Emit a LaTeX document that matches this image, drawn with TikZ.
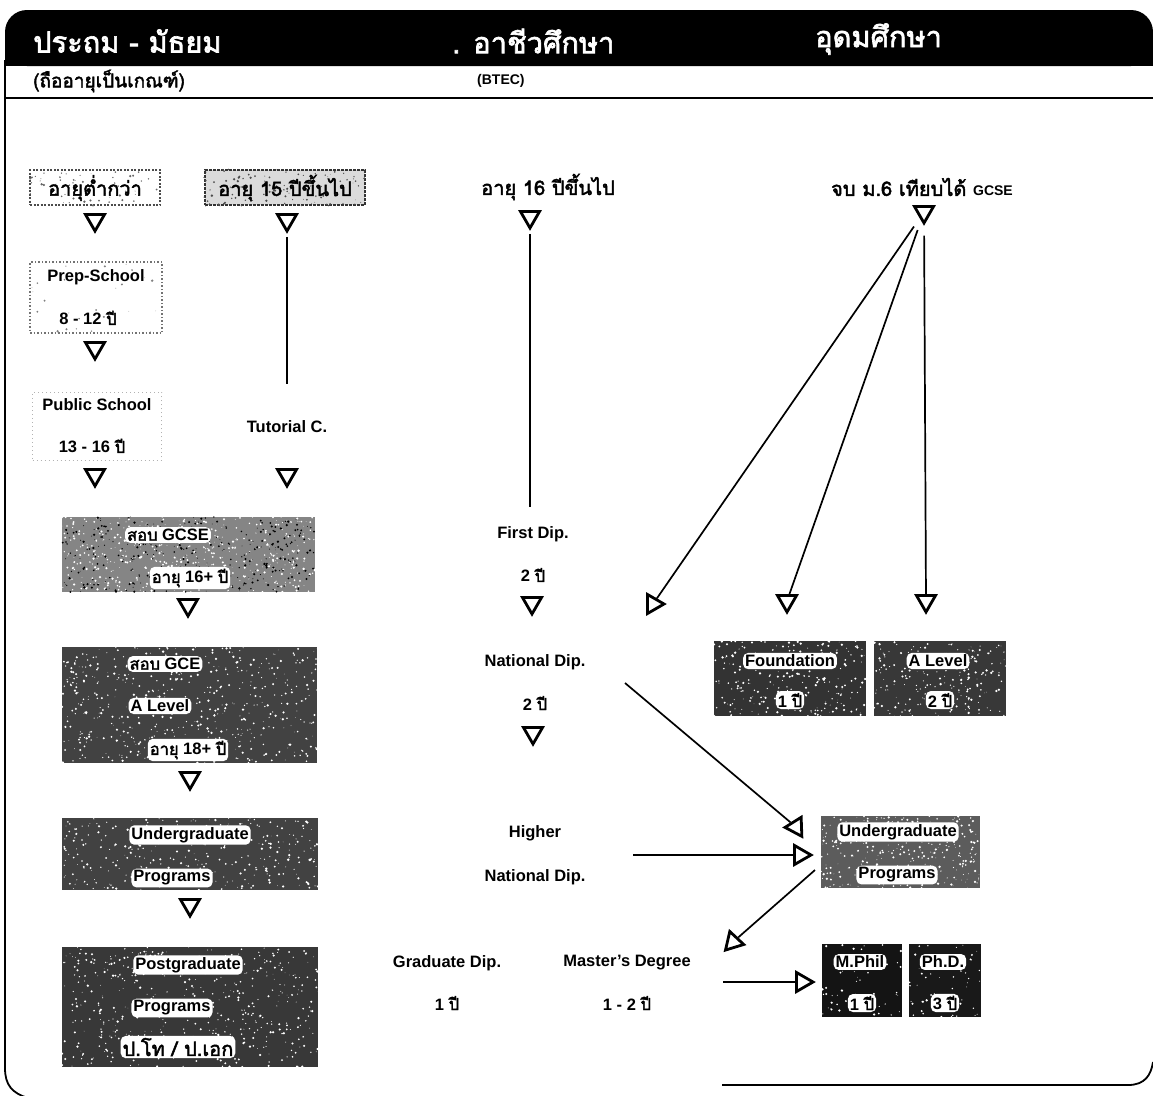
\documentclass[tikz,border=0pt]{standalone}
\usepackage{fontspec}
\setmainfont{Liberation Sans}
\newfontfamily\thaifont[Script=Thai, AutoFakeBold=2.2]{Loma}
\usetikzlibrary{shapes.geometric,calc}
\newcommand\thtxt[1]{{\thaifont #1}}
\newcommand\speckle[3]{%
  \fill[#3] let \p1=($(#1.north east)-(#1.south west)$) in
    foreach \k in {1,...,#2}{ ($(#1.south west)+({rnd*\x1},{rnd*\y1})$) circle[radius={0.3pt+1.0pt*rnd}] };}
\begin{document}
\begin{tikzpicture}[x=1pt,y=-1pt,
  lbl/.style={font=\bfseries\fontsize{16.5}{19}\selectfont, inner sep=1pt},
  thl/.style={font=\thaifont\bfseries\fontsize{20}{23}\selectfont, inner sep=1pt},
  halo/.style={fill=white, rounded corners=5pt, inner sep=2pt},
  head/.style={font=\thaifont\bfseries\fontsize{29}{33}\selectfont, text=white, anchor=west, inner sep=0pt},
  tri/.style={regular polygon, regular polygon sides=3, draw=black, line width=2.8pt,
    fill=white, minimum size=22pt, inner sep=0pt, shape border rotate=180},
  triright/.style={tri, shape border rotate=-90},
  conn/.style={line width=1.7pt},
  sbox/.style={inner sep=0pt, draw=none},
  lightbox/.style={inner sep=0pt, draw=black!70, line width=1.2pt, dash pattern=on 2pt off 1.5pt, fill=white}
]
\pgfmathsetseed{11}
\useasboundingbox (0,0) rectangle (1153,1095);

% header band
\fill[black, rounded corners=22pt] (5,10) rectangle (1153,66);
\fill[black] (5,40) rectangle (1153,66);
\node[head] (h1) at (33,41) {ประถม - มัธยม};
\node[head] (h2) at (452,41) {. อาชีวศึกษา};
\node[head] (h3) at (815,39) {อุดมศึกษา};
\node[anchor=west, font=\thaifont\bfseries\fontsize{19}{22}\selectfont, inner sep=0pt] (s1) at (33,81) {(ถืออายุเป็นเกณฑ์)};
\node[anchor=west, font=\bfseries\fontsize{14}{16}\selectfont, inner sep=0pt] (s2) at (477,81) {(BTEC)};
\draw[line width=1.5pt] (5,98) -- (1153,98);

% frame
\draw[line width=1.8pt] (5,60) -- (5,1068) .. controls (5,1085) and (12,1093) .. (28,1098);
\draw[line width=1.8pt] (722,1085) -- (1128,1085) .. controls (1145,1085) and (1151,1075) .. (1153,1062);

% ---------- left column boxes ----------
\node[lightbox, minimum width=130pt, minimum height=35pt] (b1) at (95,187.5) {};
\node[sbox, fill=black!14, draw=black!80, line width=2pt, dash pattern=on 3pt off 1pt, minimum width=160pt, minimum height=35pt] (b2) at (285,187.5) {};
\node[lightbox, draw=black!55, dash pattern=on 1.5pt off 2pt, minimum width=132pt, minimum height=71pt] (b3) at (96,297.5) {};
\node[lightbox, draw=black!30, dash pattern=on 1pt off 3pt, line width=0.8pt, minimum width=129pt, minimum height=68pt] (b4) at (97,426) {};
\node[sbox, fill=black!48, minimum width=253pt, minimum height=75pt] (b5) at (188.5,554.5) {};
\node[sbox, fill=black!74, minimum width=255pt, minimum height=116pt] (b6) at (189.5,705) {};
\node[sbox, fill=black!74, minimum width=256pt, minimum height=72pt] (b7) at (190,854) {};
\node[sbox, fill=black!78, minimum width=256pt, minimum height=120pt] (b8) at (190,1007) {};
% right column boxes
\node[sbox, fill=black!80, minimum width=152pt, minimum height=75pt] (b9) at (790,678.5) {};
\node[sbox, fill=black!78, minimum width=132pt, minimum height=75pt] (b10) at (940,678.5) {};
\node[sbox, fill=black!64, minimum width=159pt, minimum height=72pt] (b11) at (900.5,852) {};
\node[sbox, fill=black!92, minimum width=80pt, minimum height=73pt] (b12) at (862,980.5) {};
\node[sbox, fill=black!90, minimum width=72pt, minimum height=73pt] (b13) at (945,980.5) {};

% textures
\speckle{b1}{60}{black!60}
\speckle{b2}{120}{black!70}
\speckle{b3}{25}{black!50}
\speckle{b5}{500}{white}
\speckle{b5}{350}{black}
\speckle{b6}{550}{white}
\speckle{b7}{340}{white}
\speckle{b8}{520}{white}
\speckle{b9}{260}{white}
\speckle{b10}{220}{white}
\speckle{b11}{340}{white}
\speckle{b12}{60}{white}
\speckle{b13}{60}{white}

% ---------- labels in boxes ----------
\node[thl] (l1) at (95,188) {อายุต่ำกว่า};
\node[thl] (l2) at (285,188) {อายุ 15 ปีขึ้นไป};
\node[lbl] (l3a) at (96,277) {Prep-School};
\node[lbl] (l3b) at (88,318) {8 - 12 \thtxt{ปี}};
\node[lbl] (l4a) at (97,405) {Public School};
\node[lbl] (l4b) at (92,446) {13 - 16 \thtxt{ปี}};
\node[lbl] (tut) at (287,427) {Tutorial C.};
\node[lbl, halo] (l5a) at (168,535) {\thtxt{สอบ} GCSE};
\node[lbl, halo] (l5b) at (190,578) {\thtxt{อายุ} 16+ \thtxt{ปี}};
\node[lbl, halo] (l6a) at (165,664) {\thtxt{สอบ} GCE};
\node[lbl, halo] (l6b) at (160,706) {A Level};
\node[lbl, halo] (l6c) at (188,750) {\thtxt{อายุ} 18+ \thtxt{ปี}};
\node[lbl, halo] (l7a) at (190,835) {Undergraduate};
\node[lbl, halo] (l7b) at (172,878) {Programs};
\node[lbl, halo] (l8a) at (188,965) {Postgraduate};
\node[lbl, halo] (l8b) at (172,1008) {Programs};
\node[thl, halo] (l8c) at (178,1047) {ป.โท / ป.เอก};

\node[lbl, halo] (l9a) at (790,661) {Foundation};
\node[lbl, halo] (l9b) at (790,700) {1 \thtxt{ปี}};
\node[lbl, halo] (l10a) at (938,661) {A Level};
\node[lbl, halo] (l10b) at (940,700) {2 \thtxt{ปี}};
\node[lbl, halo] (l11a) at (898,832) {Undergraduate};
\node[lbl, halo] (l11b) at (897,875) {Programs};
\node[lbl, halo] (l12a) at (860,962) {M.Phil};
\node[lbl, halo] (l12b) at (862,1003) {1 \thtxt{ปี}};
\node[lbl, halo] (l13a) at (943,962) {Ph.D.};
\node[lbl, halo] (l13b) at (945,1003) {3 \thtxt{ปี}};

% ---------- middle column ----------
\node[thl] (m1) at (548,187) {อายุ 16 ปีขึ้นไป};
\node[lbl] (fd) at (533,534) {First Dip.};
\node[lbl] (fdy) at (533,575) {2 \thtxt{ปี}};
\node[lbl] (nd) at (535,662) {National Dip.};
\node[lbl] (ndy) at (535,703) {2 \thtxt{ปี}};
\node[lbl] (hn1) at (535,833) {Higher};
\node[lbl] (hn2) at (535,877) {National Dip.};
\node[lbl] (gd) at (447,963) {Graduate Dip.};
\node[lbl] (gdy) at (447,1003) {1 \thtxt{ปี}};
\node[lbl] (md) at (627,963) {Master's Degree};
\node[lbl] (mdy) at (627,1003) {1 - 2 \thtxt{ปี}};

% right top
\node[thl] (r1) at (922,187) {จบ ม.6 เทียบได้ {\rmfamily\bfseries\fontsize{14}{16}\selectfont GCSE}};

% ---------- triangles ----------
\node[tri] (tA) at (95,220) {};
\node[tri] (tB) at (287,220) {};
\node[tri] (tC) at (95,348) {};
\node[tri] (tD) at (95,475) {};
\node[tri] (tE) at (287,475) {};
\node[tri] (tF) at (188,605) {};
\node[tri] (tG) at (190,778) {};
\node[tri] (tH) at (190,905) {};
\node[tri] (tI) at (530,217) {};
\node[tri] (tJ) at (532,603) {};
\node[tri] (tK) at (533,733) {};
\node[tri] (tL) at (924,212) {};
\node[triright] (tM) at (653,604) {};
\node[tri] (tN) at (787,601) {};
\node[tri] (tO) at (926,601) {};
\node[tri, shape border rotate=-28] (tP) at (796,827) {};
\node[triright] (tQ) at (800,855) {};
\node[tri, shape border rotate=17] (tR) at (733,942) {};
\node[triright] (tS) at (802,982) {};

% ---------- connectors ----------
\draw[conn, shorten <=3pt, shorten >=36pt] (tB) -- (tut);
\draw[conn, shorten <=3pt, shorten >=18pt] (tI) -- (tI |- fd.north);
\draw[conn, shorten <=10pt] (tL) -- (tM);
\draw[conn, shorten <=10pt] (tL) -- (tN);
\draw[conn, shorten <=10pt] (tL) -- (tO);
\coordinate (ndo) at (625,683);
\coordinate (hno) at (633,855);
\coordinate (ugo) at (815,870);
\coordinate (mdo) at (723,982);
\draw[conn] (ndo) -- (tP);
\draw[conn] (hno) -- (tQ);
\draw[conn] (ugo) -- (tR);
\draw[conn] (mdo) -- (tS);
\end{tikzpicture}
\end{document}
